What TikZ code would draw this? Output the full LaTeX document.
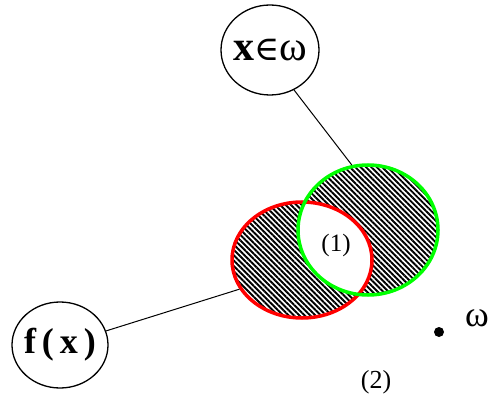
\documentclass[tikz,border=0pt]{standalone}
\usepackage{fontspec}
\setmainfont{Liberation Serif}
\newfontfamily\symfam{DejaVu Serif}
\usetikzlibrary{shapes.geometric,patterns.meta}

\begin{document}
\begin{tikzpicture}[
  x=1pt, y=-1pt,
  setnode/.style={draw=black, line width=1.3pt, ellipse, inner sep=0pt},
  areaA/.style={draw=red, line width=3.5pt, ellipse, inner sep=0pt, minimum width=140pt, minimum height=116pt},
  areaB/.style={draw=green, line width=3.5pt, ellipse, inner sep=0pt, minimum width=140pt, minimum height=130pt},
  hatch/.style={pattern={Lines[angle=-45, distance=3.8pt, line width=1.9pt]}, even odd rule},
  bigtxt/.style={font=\fontsize{42}{46}\selectfont},
  numtxt/.style={font=\fontsize{25}{28}\selectfont, inner sep=0pt},
  dot/.style={circle, fill=black, inner sep=0pt, minimum size=10pt}
]
\useasboundingbox (0,0) rectangle (492,403);

% hatched symmetric difference
\fill[hatch] (302,260) ellipse [x radius=70, y radius=58] (368,230) ellipse [x radius=70, y radius=65];

\node[areaA] (setA) at (302,260) {};
\node[areaB] (setB) at (368,230) {};

\node[setnode, minimum width=98pt, minimum height=90pt,
  label={[bigtxt]center:\textbf{x}{\symfam\fontsize{34}{38}\selectfont ∈}ω}] (xin) at (270,50) {};
\node[setnode, minimum width=96pt, minimum height=86pt,
  label={[font=\fontsize{36}{40}\selectfont\bfseries]center:f\,(\,x\,)}] (fx) at (60,345) {};

\draw[line width=1pt] (xin.-59) -- (setB.104);
\draw[line width=1pt] (fx.17) -- (setA.205);

\node[numtxt] (one) at (336,245) {(1)};
\node[numtxt, font=\fontsize{26}{30}\selectfont] (two) at (376,382) {(2)};
\node[dot] (wpt) at (439,332) {};
\node[anchor=west, inner sep=0pt, font=\fontsize{36}{40}\selectfont] (wlab) at (465,318) {ω};
\end{tikzpicture}
\end{document}
